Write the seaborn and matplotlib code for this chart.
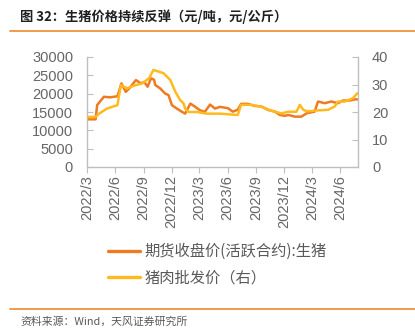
import matplotlib
matplotlib.use("Agg")
import matplotlib.pyplot as plt
from matplotlib.lines import Line2D
import seaborn as sns
import pandas as pd

# ---------------- data ----------------
futures_dates = [
    "2022-03-01", "2022-03-29", "2022-04-03", "2022-04-25", "2022-05-15", "2022-06-08",
    "2022-06-21", "2022-07-05", "2022-07-16", "2022-08-07", "2022-08-23", "2022-09-03",
    "2022-09-14", "2022-09-25", "2022-10-05", "2022-10-09", "2022-10-25", "2022-11-10",
    "2022-11-21", "2022-12-02", "2022-12-18", "2023-01-04", "2023-01-14", "2023-01-31",
    "2023-02-16", "2023-03-03", "2023-03-19", "2023-04-05", "2023-04-21", "2023-05-07",
    "2023-06-02", "2023-06-18", "2023-07-04", "2023-07-15", "2023-08-06", "2023-08-28",
    "2023-09-19", "2023-10-11", "2023-11-02", "2023-11-18", "2023-12-04", "2023-12-15",
    "2024-01-06", "2024-01-27", "2024-02-13", "2024-03-10", "2024-03-21", "2024-04-12",
    "2024-05-03", "2024-05-25", "2024-06-10", "2024-07-02", "2024-07-23", "2024-07-28",
]
futures_values = [
    13000, 13000, 16900, 19150, 19000, 19300,
    22800, 20500, 21400, 23700, 22800, 23200,
    21900, 24200, 23800, 22360, 21430, 20050,
    19600, 16870, 15940, 15030, 14560, 17300,
    16400, 15490, 15030, 17030, 15940, 16400,
    16040, 15100, 15600, 17220, 17220, 16670,
    16500, 15570, 15100, 14200, 13950, 14200,
    13740, 13740, 14650, 15100, 17860, 17400,
    17860, 17400, 18130, 18130, 18500, 18400,
]

pork_dates = [
    "2022-03-01", "2022-03-29", "2022-04-09", "2022-05-06", "2022-06-08", "2022-06-19",
    "2022-07-10", "2022-08-01", "2022-08-28", "2022-09-19", "2022-10-03", "2022-11-05",
    "2022-11-27", "2022-12-13", "2022-12-29", "2023-01-09", "2023-01-14", "2023-01-25",
    "2023-02-22", "2023-03-25", "2023-05-07", "2023-07-04", "2023-07-15", "2023-08-17",
    "2023-09-19", "2023-10-21", "2023-11-23", "2023-12-15", "2024-01-11", "2024-01-22",
    "2024-02-02", "2024-02-16", "2024-03-10", "2024-04-23", "2024-05-14", "2024-05-25",
    "2024-06-16", "2024-07-12", "2024-07-28",
]
pork_values = [
    18.2, 18.2, 19.4, 21.3, 22.5, 29.8,
    28.6, 29.6, 30.4, 32.3, 35.3, 34.1,
    31.6, 27.4, 24.3, 23.1, 21.3, 20.0,
    20.0, 19.4, 19.4, 18.9, 22.6, 22.6,
    21.9, 20.5, 19.5, 20.1, 20.1, 22.6,
    20.8, 20.2, 20.5, 20.8, 22.0, 23.8,
    23.8, 25.0, 26.9,
]

x_tick_dates = ["2022-03-01", "2022-06-01", "2022-09-01", "2022-12-01", "2023-03-01",
                "2023-06-01", "2023-09-01", "2023-12-01", "2024-03-01", "2024-06-01"]
x_tick_labels = ["2022/3", "2022/6", "2022/9", "2022/12", "2023/3",
                 "2023/6", "2023/9", "2023/12", "2024/3", "2024/6"]
left_ticks = [0, 5000, 10000, 15000, 20000, 25000, 30000]
right_ticks = [0, 10, 20, 30, 40]

series_names = ["期货收盘价(活跃合约):生猪", "猪肉批发价（右）"]
title_text = "图 32：生猪价格持续反弹（元/吨，元/公斤）"
source_text = "资料来源：Wind，天风证券研究所"

# ---------------- style ----------------
C_FUT = "#EE7B22"
C_PORK = "#FFBA1E"
GRAY = "#BFBFBF"
TXT = "#666666"
RULE = "#F29A4A"

sns.set_style("white")
plt.rcParams["font.family"] = ["Liberation Sans", "Noto Sans CJK SC", "DejaVu Sans"]
CJK = ["Noto Sans CJK SC", "DejaVu Sans"]

W, H = 415, 333
fig = plt.figure(figsize=(W / 100, H / 100), dpi=100)
ax = fig.add_axes([87 / W, 1 - 167 / H, (358 - 87) / W, (167 - 57) / H])

df_f = pd.DataFrame({"date": pd.to_datetime(futures_dates), "value": futures_values})
df_p = pd.DataFrame({"date": pd.to_datetime(pork_dates), "value": pork_values})

sns.lineplot(data=df_f, x="date", y="value", ax=ax, color=C_FUT, linewidth=1.8, legend=False)
ax2 = ax.twinx()
sns.lineplot(data=df_p, x="date", y="value", ax=ax2, color=C_PORK, linewidth=1.8, legend=False)

ax.set_xlim(pd.Timestamp("2022-03-01"), pd.Timestamp("2024-07-29"))
ax.set_ylim(0, 30000)
ax2.set_ylim(0, 40)
ax.set_yticks(left_ticks)
ax.set_yticklabels([str(v) for v in left_ticks])
ax2.set_yticks(right_ticks)
ax2.set_yticklabels([str(v) for v in right_ticks])
ax.set_xticks(pd.to_datetime(x_tick_dates))
ax.set_xticklabels(x_tick_labels, rotation=90)
for a in (ax, ax2):
    a.set_xlabel("")
    a.set_ylabel("")

ax.tick_params(axis="y", direction="in", length=4, width=0.8, color=GRAY,
               labelcolor=TXT, labelsize=10.5, pad=10)
ax2.tick_params(axis="y", direction="in", length=4, width=0.8, color=GRAY,
                labelcolor=TXT, labelsize=10.5, pad=10)
ax.tick_params(axis="x", direction="out", length=4, width=0.8, color=GRAY,
               labelcolor=TXT, labelsize=10.5, pad=2, bottom=True)

for a in (ax, ax2):
    a.spines["top"].set_visible(False)
ax.spines["right"].set_visible(False)
ax2.spines["left"].set_visible(False)
ax2.spines["bottom"].set_visible(False)
ax.spines["left"].set_color(GRAY)
ax.spines["bottom"].set_color(GRAY)
ax2.spines["right"].set_color(GRAY)
for s in ("left", "bottom"):
    ax.spines[s].set_linewidth(1.0)
ax2.spines["right"].set_linewidth(1.0)

handles = [Line2D([], [], color=C_FUT, linewidth=2.4),
           Line2D([], [], color=C_PORK, linewidth=2.4)]
fig.legend(handles, series_names, loc="upper left", bbox_to_anchor=(108 / W, 1 - 243 / H),
           frameon=False, borderpad=0, borderaxespad=0, handlelength=2.1,
           handletextpad=0.3, labelspacing=0.6, prop={"family": CJK, "size": 11},
           labelcolor="#595959")

fig.text(20 / W, 1 - 17 / H, title_text, fontsize=9.5, fontweight="bold", va="center",
         ha="left", family=CJK, color="#1F1F1F")
fig.add_artist(Line2D([10 / W, 1], [1 - 31 / H] * 2, color=RULE, linewidth=1.4))
fig.add_artist(Line2D([10 / W, 1], [1 - 309 / H] * 2, color=RULE, linewidth=1.4))
fig.text(20 / W, 1 - 322 / H, source_text, fontsize=7.8, va="center", ha="left",
         family=CJK, color="#595959")

fig.savefig("out.png", dpi=100)
